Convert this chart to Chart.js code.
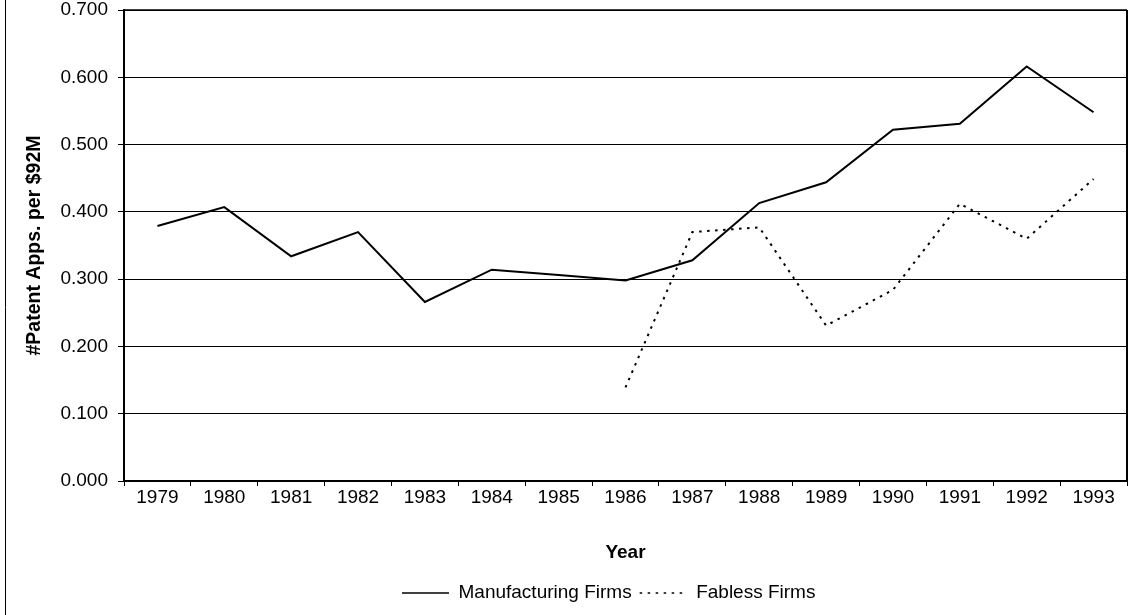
<!DOCTYPE html>
<html>
<head>
<meta charset="utf-8">
<script src="https://cdn.jsdelivr.net/npm/chart.js@4/dist/chart.umd.min.js"></script>
<style>
html,body{margin:0;padding:0;background:#fff;}
#wrap{width:1130px;height:615px;position:relative;}
</style>
</head>
<body>
<div id="wrap"><canvas id="c" width="1130" height="615"></canvas></div>
<script>
const years = ['1979','1980','1981','1982','1983','1984','1985','1986','1987','1988','1989','1990','1991','1992','1993'];
const manufacturing = [0.379, 0.407, 0.334, 0.370, 0.266, 0.314, 0.306, 0.298, 0.328, 0.413, 0.444, 0.522, 0.531, 0.616, 0.548];
const fabless = [null, null, null, null, null, null, null, 0.139, 0.370, 0.377, 0.231, 0.284, 0.412, 0.360, 0.449];
const yMin = 0, yMax = 0.7, yStep = 0.1;

const FONT = '"Liberation Sans", Arial, sans-serif';
const LEGEND_START_X = 402;

const framePlugin = {
  id: 'frame',
  afterLayout(chart) {
    const lg = chart.legend;
    if (lg && lg.lineWidths) {
      const p = lg.options.labels.padding;
      const start = (lg.left + p + lg.right - lg.lineWidths[0]) / 2;
      const shift = LEGEND_START_X - start;
      lg.left += shift;
      lg.right += shift;
    }
  },
  afterDraw(chart) {
    const {ctx, chartArea: a} = chart;
    ctx.save();
    ctx.strokeStyle = '#000';
    ctx.lineWidth = 1.5;
    ctx.beginPath();
    ctx.moveTo(a.left, a.top);
    ctx.lineTo(a.right, a.top);
    ctx.stroke();
    ctx.lineWidth = 2;
    ctx.beginPath();
    ctx.moveTo(a.right, a.top);
    ctx.lineTo(a.right, a.bottom);
    ctx.stroke();
    ctx.lineWidth = 1;
    ctx.beginPath();
    ctx.moveTo(5.5, 0);
    ctx.lineTo(5.5, chart.height);
    ctx.stroke();
    ctx.restore();
  }
};

new Chart(document.getElementById('c'), {
  type: 'line',
  data: {
    labels: years,
    datasets: [
      {
        label: 'Manufacturing Firms',
        data: manufacturing,
        borderColor: '#000',
        backgroundColor: '#000',
        borderWidth: 2,
        pointRadius: 0,
        pointStyle: 'line',
        tension: 0,
        fill: false
      },
      {
        label: 'Fabless Firms',
        data: fabless,
        borderColor: '#000',
        backgroundColor: '#000',
        borderWidth: 2,
        borderDash: [2.5, 5.5],
        pointRadius: 0,
        pointStyle: 'line',
        tension: 0,
        fill: false
      }
    ]
  },
  options: {
    responsive: false,
    animation: false,
    devicePixelRatio: 1,
    layout: { padding: { left: 0, top: 10, right: 3, bottom: 2.5 } },
    plugins: {
      legend: {
        position: 'bottom',
        labels: {
          usePointStyle: true,
          pointStyle: 'line',
          pointStyleWidth: 47,
          padding: 8,
          color: '#000',
          font: { family: FONT, size: 19 },
          generateLabels(chart) {
            return chart.data.datasets.map((ds, i) => ({
              text: ds.label,
              datasetIndex: i,
              hidden: !chart.isDatasetVisible(i),
              fillStyle: ds.borderColor,
              strokeStyle: ds.borderColor,
              fontColor: '#000',
              lineWidth: 1.5,
              lineDash: ds.borderDash || [],
              lineCap: 'butt',
              pointStyle: 'line'
            }));
          }
        }
      },
      tooltip: { enabled: false },
      title: { display: false }
    },
    scales: {
      x: {
        offset: true,
        grid: { display: true, offset: true, drawOnChartArea: false, drawTicks: true, tickLength: 5, color: '#000', lineWidth: 1 },
        border: { display: true, color: '#000', width: 2 },
        ticks: { color: '#000', padding: 0, maxRotation: 0, autoSkip: false, font: { family: FONT, size: 19 } },
        title: { display: true, text: 'Year', color: '#000', padding: { top: 0, bottom: 11 }, font: { family: FONT, size: 19, weight: 'bold' } },
        afterFit(s) { s.height = 94.5; s.paddingLeft = 0; s.paddingRight = 0; }
      },
      y: {
        min: yMin,
        max: yMax,
        grid: { color: '#000', lineWidth: 1, drawTicks: true, tickLength: 6, tickColor: '#000' },
        border: { display: true, color: '#000', width: 2 },
        ticks: { stepSize: yStep, color: '#000', padding: 10, font: { family: FONT, size: 19 }, callback: v => Number(v).toFixed(3) },
        title: { display: true, text: '#Patent Apps. per $92M', color: '#000', padding: { top: 23, bottom: 0 }, font: { family: FONT, size: 19.5, weight: 'bold' } },
        afterFit(s) { s.width = 124; s.paddingTop = 0; s.paddingBottom = 0; }
      }
    }
  },
  plugins: [framePlugin]
});
</script>
</body>
</html>
